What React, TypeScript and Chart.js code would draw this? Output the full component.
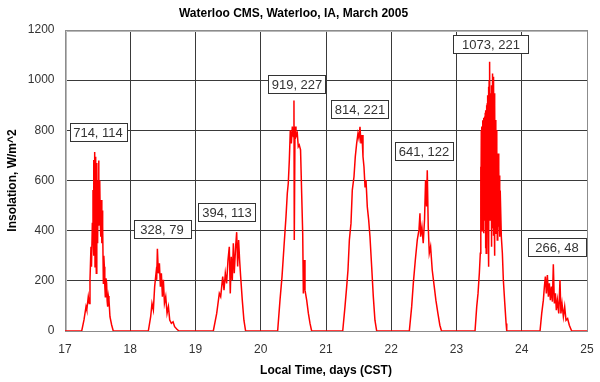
import React, { useEffect, useRef } from "react";
import { Chart, registerables } from "chart.js";

Chart.register(...registerables);

const TITLE = "Waterloo CMS, Waterloo, IA, March 2005";
const X_TITLE = "Local Time, days (CST)";
const Y_TITLE = "Insolation, W/m^2";

const X_MIN = 17;
const X_MAX = 25;
const Y_MIN = 0;
const Y_MAX = 1200;

type P = [number, number];

const day17: P[] = [
  [17.256, 0], [17.291, 44], [17.322, 97], [17.334, 84], [17.357, 137], [17.372, 110],
  [17.383, 203], [17.398, 336], [17.406, 256], [17.419, 429], [17.429, 562], [17.432, 376],
  [17.438, 600], [17.441, 300], [17.444, 682], [17.45, 320], [17.455, 714], [17.46, 256],
  [17.465, 640], [17.47, 695], [17.475, 400], [17.48, 230], [17.485, 560], [17.49, 670],
  [17.495, 420], [17.5, 350], [17.508, 600], [17.516, 680], [17.52, 420], [17.525, 455],
  [17.53, 560], [17.535, 600], [17.54, 440], [17.546, 376], [17.551, 500], [17.556, 522],
  [17.562, 400], [17.567, 350], [17.572, 480], [17.577, 416], [17.588, 190], [17.595, 300],
  [17.603, 256], [17.61, 180], [17.618, 137], [17.628, 210], [17.638, 190], [17.646, 120],
  [17.654, 97], [17.664, 140], [17.674, 124], [17.689, 57], [17.715, 24], [17.74, 0],
];

const day18: P[] = [
  [18.277, 0], [18.313, 57], [18.333, 110], [18.354, 84], [18.374, 177], [18.395, 230],
  [18.405, 204], [18.416, 328], [18.431, 230], [18.447, 270], [18.462, 177], [18.477, 230],
  [18.493, 137], [18.508, 204], [18.524, 110], [18.544, 137], [18.564, 70], [18.585, 97],
  [18.605, 44], [18.63, 31], [18.656, 37], [18.68, 17], [18.716, 7], [18.746, 0],
];

const day19: P[] = [
  [19.273, 0], [19.325, 70], [19.365, 150], [19.386, 137], [19.417, 217], [19.437, 163],
  [19.457, 230], [19.477, 190], [19.498, 283], [19.518, 336], [19.533, 150], [19.548, 296],
  [19.564, 203], [19.58, 350], [19.594, 230], [19.615, 336], [19.631, 394], [19.646, 257],
  [19.661, 363], [19.676, 283], [19.692, 217], [19.717, 123], [19.742, 43], [19.768, 0],
];

const day20: P[] = [
  [20.259, 0], [20.295, 123], [20.326, 217], [20.356, 336], [20.387, 456], [20.407, 549],
  [20.422, 589], [20.438, 682], [20.453, 801], [20.469, 748], [20.484, 815], [20.5, 775],
  [20.509, 919], [20.514, 363], [20.525, 815], [20.54, 775], [20.56, 788], [20.575, 735],
  [20.59, 742], [20.61, 722], [20.627, 549], [20.643, 390], [20.653, 150], [20.663, 283],
  [20.678, 163], [20.704, 123], [20.73, 70], [20.755, 30], [20.78, 0],
];

const day21: P[] = [
  [21.256, 0], [21.291, 97], [21.317, 177], [21.337, 243], [21.358, 363], [21.383, 429],
  [21.403, 562], [21.429, 615], [21.449, 695], [21.47, 748], [21.49, 788], [21.505, 768],
  [21.521, 814], [21.536, 748], [21.552, 781], [21.567, 695], [21.582, 655], [21.598, 575],
  [21.613, 602], [21.633, 495], [21.654, 443], [21.674, 376], [21.7, 256], [21.725, 137],
  [21.75, 43], [21.777, 0],
];

const day22: P[] = [
  [22.277, 0], [22.313, 97], [22.338, 190], [22.369, 283], [22.399, 363], [22.425, 403],
  [22.44, 469], [22.45, 376], [22.47, 416], [22.49, 350], [22.51, 443], [22.526, 602],
  [22.541, 496], [22.552, 641], [22.567, 416], [22.583, 310], [22.603, 336], [22.628, 243],
  [22.659, 177], [22.684, 123], [22.715, 70], [22.745, 23], [22.77, 0],
];

const day23: P[] = [
  [23.284, 0], [23.31, 97], [23.33, 150], [23.35, 230], [23.365, 310], [23.37, 655],
  [23.375, 380], [23.38, 800], [23.385, 450], [23.39, 815], [23.395, 400], [23.4, 840],
  [23.405, 470], [23.41, 830], [23.415, 390], [23.42, 850], [23.425, 500], [23.43, 855],
  [23.435, 440], [23.44, 870], [23.445, 330], [23.45, 880], [23.455, 310], [23.46, 900],
  [23.465, 480], [23.47, 908], [23.475, 549], [23.48, 940], [23.485, 420], [23.49, 974],
  [23.495, 256], [23.5, 1000], [23.505, 500], [23.51, 1073], [23.515, 443], [23.52, 900],
  [23.525, 520], [23.53, 948], [23.535, 336], [23.54, 980], [23.545, 420], [23.55, 1027],
  [23.555, 416], [23.56, 990], [23.565, 380], [23.57, 1014], [23.575, 549], [23.58, 948],
  [23.585, 300], [23.59, 900], [23.595, 390], [23.6, 841], [23.605, 470], [23.61, 800],
  [23.615, 443], [23.62, 722], [23.625, 363], [23.63, 700], [23.635, 420], [23.64, 708],
  [23.645, 416], [23.65, 650], [23.655, 443], [23.66, 620], [23.665, 376], [23.67, 560],
  [23.687, 376], [23.703, 310], [23.718, 203], [23.74, 110], [23.76, 30], [23.77, 0],
];

const day24: P[] = [
  [24.28, 0], [24.306, 70], [24.331, 123], [24.347, 177], [24.362, 217], [24.377, 150],
  [24.393, 223], [24.408, 137], [24.423, 190], [24.439, 123], [24.454, 177], [24.47, 117],
  [24.484, 266], [24.5, 110], [24.516, 150], [24.53, 83], [24.546, 123], [24.567, 70],
  [24.586, 203], [24.6, 70], [24.617, 110], [24.638, 57], [24.658, 97], [24.678, 43],
  [24.703, 50], [24.729, 23], [24.765, 0],
];

const DAYS: P[][] = [day17, day18, day19, day20, day21, day22, day23, day24];

// Annotation labels (text, and anchor centre in data units)
const labelText = ["714, 114", "328, 79", "394, 113", "919, 227", "814, 221", "641, 122", "1073, 221", "266, 48"];
const labelX = [17.506, 18.487, 19.478, 20.548, 21.521, 22.502, 23.524, 24.54];
const labelY = [795, 405, 476, 985, 885, 718, 1144, 333];

// style constants
const LABEL_BOX_W = [57, 57, 57, 57, 57, 58, 75, 58];
const LABEL_BOX_H = 18;
const FONT = "'Liberation Sans', Arial, sans-serif";

export default function App() {
  const ref = useRef<HTMLCanvasElement | null>(null);

  useEffect(() => {
    document.body.style.margin = "0";
    const canvas = ref.current;
    if (!canvas) return;

    const points: { x: number; y: number }[] = [{ x: X_MIN, y: 0 }];
    DAYS.forEach((d) => d.forEach(([x, y]) => points.push({ x, y })));
    points.push({ x: X_MAX, y: 0 });

    const borderPlugin = {
      id: "plotBorder",
      beforeDatasetsDraw(chart: any) {
        const { ctx, chartArea: a } = chart;
        ctx.save();
        ctx.strokeStyle = "#8c8c8c";
        ctx.lineWidth = 1;
        ctx.strokeRect(Math.round(a.left) + 0.5, Math.round(a.top) + 0.5, Math.round(a.right - a.left), Math.round(a.bottom - a.top));
        ctx.strokeStyle = "#b8b8b8";
        ctx.beginPath();
        ctx.moveTo(Math.round(a.left) + 1.5, Math.round(a.bottom));
        ctx.lineTo(Math.round(a.left) + 1.5, Math.round(a.top) + 1.5);
        ctx.lineTo(Math.round(a.right), Math.round(a.top) + 1.5);
        ctx.stroke();
        ctx.restore();
      },
    };

    const labelPlugin = {
      id: "peakLabels",
      afterDatasetsDraw(chart: any) {
        const { ctx } = chart;
        const xs = chart.scales.x;
        const ys = chart.scales.y;
        ctx.save();
        ctx.font = `13px ${FONT}`;
        ctx.textAlign = "center";
        ctx.textBaseline = "middle";
        labelText.forEach((t, i) => {
          const cx = xs.getPixelForValue(labelX[i]);
          const cy = ys.getPixelForValue(labelY[i]);
          const w = LABEL_BOX_W[i];
          const h = LABEL_BOX_H;
          const l = Math.round(cx - w / 2) + 0.5;
          const tp = Math.round(cy - h / 2) + 0.5;
          ctx.fillStyle = "#ffffff";
          ctx.fillRect(l, tp, w, h);
          ctx.strokeStyle = "#333333";
          ctx.lineWidth = 1;
          ctx.strokeRect(l, tp, w, h);
          ctx.fillStyle = "#333333";
          ctx.fillText(t, Math.round(cx), Math.round(cy) + 1);
        });
        ctx.restore();
      },
    };

    const edgeColor = (c: any, n: number) =>
      c.index === 0 || c.index === n ? "rgba(0,0,0,0)" : "#3a3a3a";

    const chart = new Chart(canvas, {
      type: "line",
      data: {
        datasets: [
          {
            data: points,
            borderColor: "#ff0000",
            borderWidth: 1.5,
            pointRadius: 0,
            tension: 0,
            fill: false,
          },
        ],
      },
      options: {
        animation: false,
        responsive: false,
        devicePixelRatio: 1,
        parsing: false as any,
        layout: { padding: { left: 0, right: 13, top: 0, bottom: 0 } },
        plugins: {
          legend: { display: false },
          tooltip: { enabled: false },
          title: {
            display: true,
            text: TITLE,
            color: "#000000",
            font: { family: FONT, size: 12, weight: "bold" },
            padding: { top: 6.8, bottom: 8.8 },
          },
        },
        scales: {
          x: {
            type: "linear",
            min: X_MIN,
            max: X_MAX,
            afterFit: (s: any) => {
              s.height = 51;
              s.paddingLeft = 0;
              s.paddingRight = 0;
            },
            ticks: {
              stepSize: 1,
              color: "#333333",
              padding: 11,
              font: { family: FONT, size: 12 },
              maxRotation: 0,
              callback: (v: any) => String(v),
            },
            grid: {
              drawTicks: false,
              color: (c: any) => edgeColor(c, 8),
            },
            border: { display: false },
            title: {
              display: true,
              text: X_TITLE,
              color: "#000000",
              font: { family: FONT, size: 12, weight: "bold" },
              padding: { top: 0, bottom: 3.8 },
            },
          },
          y: {
            type: "linear",
            min: Y_MIN,
            max: Y_MAX,
            afterFit: (s: any) => {
              s.width = 65;
            },
            ticks: {
              stepSize: 200,
              color: "#333333",
              padding: 10.5,
              font: { family: FONT, size: 12 },
              callback: (v: any) => String(v),
            },
            grid: {
              drawTicks: false,
              color: (c: any) => edgeColor(c, 6),
            },
            border: { display: false },
            title: {
              display: true,
              text: Y_TITLE,
              color: "#000000",
              font: { family: FONT, size: 12, weight: "bold" },
              padding: { top: 5.3, bottom: 0 },
            },
          },
        },
      },
      plugins: [borderPlugin, labelPlugin],
    });

    return () => chart.destroy();
  }, []);

  return (
    <div style={{ width: 600, height: 382, background: "#ffffff" }}>
      <canvas ref={ref} width={600} height={382} style={{ display: "block" }} />
    </div>
  );
}
